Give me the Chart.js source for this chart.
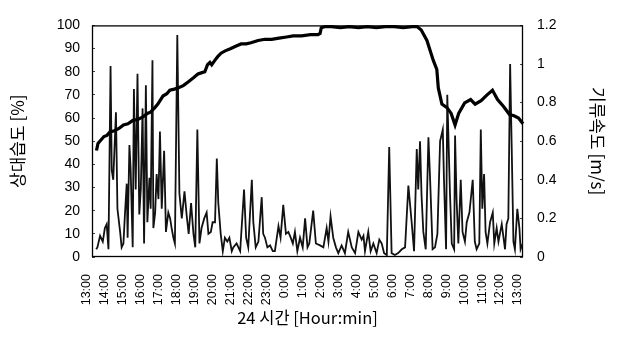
<!DOCTYPE html>
<html><head><meta charset="utf-8">
<script src="https://cdn.jsdelivr.net/npm/chart.js@4.4.0/dist/chart.umd.min.js"></script>
<style>html,body{margin:0;padding:0;background:#fff}canvas{display:block}</style>
</head><body>
<canvas id="c" width="617" height="347"></canvas>
<script>
const timeLabels = ['13:00','14:00','15:00','16:00','17:00','18:00','19:00','20:00','21:00','22:00','23:00','0:00','1:00','2:00','3:00','4:00','5:00','6:00','7:00','8:00','9:00','10:00','11:00','12:00','13:00'];
const rhTickLabels = ['0','10','20','30','40','50','60','70','80','90','100'];
const flowTickLabels = ['0','0.2','0.4','0.6','0.8','1','1.2'];

// minutes after 13:00
const rhTimes = [15,20,30,40,50,60,75,90,105,120,137,155,170,185,195,210,220,237,250,260,275,287,305,320,340,354,365,377,386,394,400,411,420,431,445,464,480,498,515,531,555,578,600,625,650,672,700,730,755,762,766,780,800,830,860,890,920,950,980,1010,1040,1070,1086,1100,1119,1140,1152,1157,1169,1186,1200,1213,1225,1245,1265,1280,1300,1320,1338,1355,1375,1395,1410,1425,1440];
const rhValues = [46,49,50.5,52,52.5,54,54.5,55.5,57,57.5,59,59.5,60.5,62,62.5,64.5,66,69.5,70.5,72,72.5,73,74,75.5,77.5,79,79.5,80,83,84,83,85,86.5,88,89,90,91,92,92,92.5,93.5,94,94,94.5,95,95.5,95.5,96,96,96.5,99,99.5,99.5,99,99.5,99,99.5,99,99.5,99.5,99,99.5,99.5,98,93.5,85,81,73,66,64.5,62,57,62,66.5,68,66,67.5,70,72,68,65,61.5,61,60,57.5];

const flowTimes = [14,18,27,36,43,49,55,62,66,71,80,85,94,99,105,110,116,119,125,129,136,140,146,152,158,163,169,174,180,185,192,196,202,205,211,216,222,227,233,241,247,255,261,266,272,277,285,292,300,309,316,323,331,339,345,352,359,366,375,383,389,397,403,411,417,422,430,437,444,452,459,467,472,483,495,508,515,522,534,539,547,556,567,572,578,586,595,604,611,623,630,639,648,656,664,671,678,686,695,704,712,720,726,739,748,762,773,784,790,797,806,815,823,834,845,856,868,879,890,901,907,912,923,931,940,951,960,968,976,985,993,1001,1012,1023,1035,1046,1057,1068,1076,1085,1090,1096,1101,1107,1115,1124,1129,1138,1146,1154,1163,1172,1176,1183,1187,1196,1202,1210,1213,1218,1224,1232,1238,1246,1252,1261,1272,1279,1285,1294,1299,1304,1310,1315,1321,1330,1339,1344,1352,1358,1369,1380,1385,1391,1397,1402,1408,1413,1421,1428,1432,1439];
const flowValues = [0.04,0.05,0.11,0.08,0.15,0.17,0.04,0.99,0.45,0.40,0.75,0.25,0.13,0.05,0.07,0.22,0.38,0.10,0.58,0.46,0.05,0.87,0.35,0.95,0.22,0.35,0.77,0.07,0.89,0.18,0.41,0.25,1.02,0.15,0.23,0.43,0.30,0.65,0.25,0.55,0.13,0.23,0.20,0.15,0.10,0.07,1.15,0.33,0.20,0.34,0.22,0.12,0.28,0.12,0.05,0.66,0.07,0.15,0.20,0.23,0.12,0.13,0.18,0.18,0.51,0.28,0.12,0.03,0.10,0.08,0.10,0.03,0.05,0.07,0.03,0.35,0.10,0.05,0.40,0.18,0.05,0.08,0.31,0.12,0.10,0.05,0.06,0.03,0.03,0.16,0.10,0.27,0.12,0.13,0.10,0.07,0.13,0.03,0.10,0.05,0.20,0.05,0.07,0.24,0.07,0.06,0.05,0.15,0.08,0.21,0.10,0.05,0.02,0.06,0.02,0.13,0.05,0.02,0.13,0.09,0.11,0.03,0.13,0.03,0.07,0.02,0.09,0.07,0.02,0.01,0.57,0.02,0.01,0.02,0.04,0.05,0.37,0.18,0.03,0.56,0.35,0.60,0.32,0.13,0.04,0.62,0.43,0.04,0.05,0.12,0.60,0.66,0.40,0.04,0.84,0.33,0.07,0.04,0.63,0.30,0.07,0.40,0.13,0.08,0.18,0.23,0.40,0.08,0.04,0.07,0.66,0.25,0.43,0.13,0.07,0.18,0.23,0.07,0.15,0.08,0.17,0.04,0.17,0.20,1.00,0.59,0.08,0.04,0.25,0.15,0.04,0.07];

const frame = {
  id: 'frame',
  beforeDatasetsDraw(chart) {
    const {ctx, chartArea: a} = chart;
    ctx.save();
    ctx.strokeStyle = '#000';
    ctx.lineWidth = 1.3;
    ctx.strokeRect(a.left + 0.5, a.top + 0.5, a.right - a.left - 1, a.bottom - a.top - 1);
    ctx.restore();
  }
};

const latin = "'Liberation Sans', Arial, sans-serif";
const kr = "'Noto Sans CJK KR', 'Liberation Sans', sans-serif";

new Chart(document.getElementById('c'), {
  type: 'line',
  data: {
    datasets: [
      {
        label: '상대습도',
        data: rhTimes.map((t, i) => ({x: t, y: rhValues[i]})),
        yAxisID: 'y',
        borderColor: '#000',
        borderWidth: 3.2,
        pointRadius: 0,
        tension: 0,
        clip: 4
      },
      {
        label: '기류속도',
        data: flowTimes.map((t, i) => ({x: t, y: flowValues[i]})),
        yAxisID: 'y1',
        borderColor: '#111',
        borderWidth: 1.8,
        pointRadius: 0,
        tension: 0
      }
    ]
  },
  options: {
    responsive: false,
    animation: false,
    devicePixelRatio: 1,
    layout: {padding: {top: 14, left: 0, right: 0, bottom: 0}},
    plugins: {legend: {display: false}, tooltip: {enabled: false}},
    scales: {
      x: {
        type: 'linear',
        min: 0, max: 1440,
        grid: {display: false},
        border: {display: false},
        ticks: {
          stepSize: 60, autoSkip: false, maxRotation: 90, minRotation: 90,
          padding: 9, labelOffset: -5, color: '#000',
          font: {family: latin, size: 12.5},
          callback: (v) => timeLabels[Math.round(v / 60)]
        },
        title: {display: true, text: '24 시간 [Hour:min]', color: '#000',
          font: {family: kr, size: 16.5}, padding: {top: 0, bottom: 19}},
        afterFit: (s) => { s.height = 90; }
      },
      y: {
        position: 'left',
        min: 0, max: 100,
        grid: {display: true, drawOnChartArea: false, drawTicks: true, tickLength: -3, color: '#444'},
        border: {display: false},
        ticks: {stepSize: 10, padding: 15, color: '#000', font: {family: latin, size: 14},
          callback: (v) => rhTickLabels[Math.round(v / 10)]},
        title: {display: true, text: '상대습도 [%]', color: '#000',
          font: {family: kr, size: 17}, padding: {top: 7, bottom: 0}},
        afterFit: (s) => { s.width = 92; }
      },
      y1: {
        position: 'right',
        min: 0, max: 1.2,
        grid: {display: true, drawOnChartArea: false, drawTicks: true, tickLength: -3, color: '#444'},
        border: {display: false},
        ticks: {stepSize: 0.2, padding: 17, color: '#000', font: {family: latin, size: 14},
          callback: (v) => flowTickLabels[Math.round(v / 0.2)]},
        title: {display: true, text: '기류속도 [m/s]', color: '#000',
          font: {family: kr, size: 17}, padding: {top: 9, bottom: 0}},
        afterFit: (s) => { s.width = 94; }
      }
    }
  },
  plugins: [frame]
});
</script>
</body></html>
